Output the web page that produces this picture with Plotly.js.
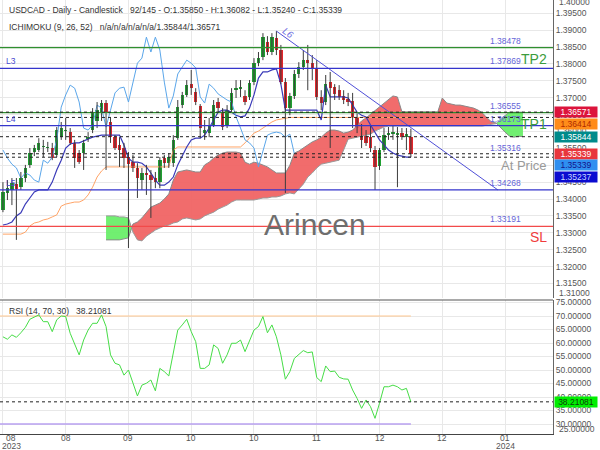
<!DOCTYPE html>
<html><head><meta charset="utf-8">
<script src="https://cdn.plot.ly/plotly-3.0.1.min.js"></script>
<style>html,body{margin:0;padding:0;background:#fff}#c{width:600px;height:450px}</style>
</head><body><div id="c"></div>
<script>
// ---------- DATA ----------
const openP = [1.3367,1.3418,1.3427,1.3444,1.3435,1.3462,1.3501,1.3539,1.3545,1.3554,
1.3551,1.3551,1.3530,1.3583,1.3601,1.3598,1.3566,1.3536,1.3536,1.3577,
1.3604,1.3631,1.3657,1.3684,1.3628,1.3583,1.3560,1.3551,1.3524,1.3509,
1.3492,1.3456,1.3477,1.3471,1.3462,1.3450,1.3521,1.3506,1.3506,1.3580,
1.3678,1.3708,1.3740,1.3717,1.3675,1.3595,1.3595,1.3619,1.3687,1.3654,
1.3619,1.3663,1.3722,1.3725,1.3705,1.3702,1.3746,1.3802,1.3820,1.3865,
1.3835,1.3876,1.3841,1.3746,1.3669,1.3705,1.3770,1.3791,1.3811,1.3802,
1.3788,1.3702,1.3687,1.3746,1.3731,1.3722,1.3705,1.3696,1.3690,1.3640,
1.3610,1.3586,1.3583,1.3545,1.3498,1.3545,1.3589,1.3592,1.3589,1.3595,
1.3583,1.35850];
const highP = [1.3450,1.3456,1.3462,1.3462,1.3480,1.3501,1.3551,1.3560,1.3580,1.3575,
1.3569,1.3566,1.3613,1.3628,1.3640,1.3610,1.3575,1.3545,1.3575,1.3598,
1.3669,1.3687,1.3693,1.3693,1.3640,1.3589,1.3583,1.3566,1.3539,1.3530,
1.3506,1.3492,1.3501,1.3486,1.3480,1.3524,1.3530,1.3536,1.3589,1.3693,
1.3717,1.3752,1.3782,1.3728,1.3681,1.3634,1.3640,1.3693,1.3699,1.3669,
1.3678,1.3728,1.3752,1.3752,1.3722,1.3752,1.3817,1.3835,1.3891,1.3882,
1.3891,1.3897,1.3856,1.3758,1.3714,1.3782,1.3805,1.3841,1.3856,1.3826,
1.3811,1.3722,1.3767,1.3776,1.3740,1.3737,1.3722,1.3714,1.3714,1.3654,
1.3622,1.3604,1.3619,1.3557,1.3551,1.3610,1.3613,1.3616,1.3613,1.3610,
1.3610,1.36082];
const lowP = [1.3361,1.3397,1.3382,1.3279,1.3427,1.3450,1.3492,1.3527,1.3539,1.3524,
1.3539,1.3515,1.3524,1.3575,1.3575,1.3560,1.3492,1.3504,1.3486,1.3569,
1.3595,1.3610,1.3631,1.3486,1.3566,1.3545,1.3495,1.3492,1.3255,1.3480,
1.3403,1.3427,1.3412,1.3344,1.3432,1.3432,1.3492,1.3492,1.3495,1.3575,
1.3669,1.3702,1.3708,1.3678,1.3580,1.3575,1.3583,1.3613,1.3657,1.3604,
1.3610,1.3657,1.3699,1.3702,1.3678,1.3693,1.3737,1.3793,1.3811,1.3826,
1.3826,1.3826,1.3740,1.3418,1.3648,1.3696,1.3758,1.3782,1.3722,1.3752,
1.3693,1.3663,1.3678,1.3551,1.3693,1.3693,1.3681,1.3675,1.3610,1.3595,
1.3551,1.3557,1.3539,1.3427,1.3486,1.3539,1.3575,1.3575,1.3435,1.3575,
1.3545,1.35240];
const closeP = [1.3421,1.3432,1.3447,1.3430,1.3462,1.3492,1.3536,1.3551,1.3566,1.3557,
1.3554,1.3521,1.3604,1.3610,1.3604,1.3566,1.3521,1.3509,1.3566,1.3583,
1.3654,1.3663,1.3684,1.3657,1.3583,1.3551,1.3545,1.3521,1.3503,1.3492,
1.3462,1.3477,1.3471,1.3456,1.3450,1.3515,1.3506,1.3524,1.3575,1.3672,
1.3708,1.3737,1.3728,1.3687,1.3610,1.3604,1.3619,1.3678,1.3669,1.3613,
1.3663,1.3714,1.3728,1.3731,1.3687,1.3743,1.3802,1.3817,1.3879,1.3835,
1.3879,1.3841,1.3746,1.3669,1.3705,1.3770,1.3791,1.3811,1.3802,1.3788,
1.3702,1.3684,1.3740,1.3728,1.3711,1.3702,1.3693,1.3687,1.3643,1.3610,
1.3575,1.3566,1.3551,1.3495,1.3545,1.3589,1.3595,1.3598,1.3595,1.3583,
1.3592,1.35339];

const tenkan = [1.3323,1.3326,1.3332,1.3350,1.3359,1.3385,1.3403,1.3421,1.3427,1.3427,
1.3427,1.3450,1.3486,1.3515,1.3551,1.3563,1.3566,1.3566,1.3572,1.3577,
1.3583,1.3586,1.3589,1.3589,1.3589,1.3589,1.3589,1.3560,1.3521,1.3509,
1.3509,1.3506,1.3495,1.3477,1.3456,1.3441,1.3441,1.3450,1.3465,1.3501,
1.3530,1.3554,1.3575,1.3580,1.3580,1.3589,1.3610,1.3634,1.3657,1.3663,
1.3663,1.3657,1.3648,1.3643,1.3646,1.3669,1.3708,1.3758,1.3776,1.3776,
1.3782,1.3785,1.3740,1.3663,1.3663,1.3663,1.3663,1.3663,1.3663,1.3663,
1.3663,1.3634,1.3737,1.3702,1.3702,1.3702,1.3702,1.3699,1.3678,1.3657,
1.3648,1.3643,1.3619,1.3595,1.3575,1.3560,1.3545,1.3536,1.3530,1.3527,
1.3524,1.35237];
const kijun = [1.3296,1.3296,1.3296,1.3296,1.3296,1.3302,1.3320,1.3329,1.3332,1.3338,
1.3341,1.3347,1.3353,1.3379,1.3385,1.3388,1.3391,1.3391,1.3397,1.3412,
1.3435,1.3465,1.3483,1.3495,1.3495,1.3495,1.3495,1.3495,1.3495,1.3495,
1.3495,1.3495,1.3495,1.3495,1.3495,1.3495,1.3495,1.3495,1.3545,1.3554,
1.3554,1.3554,1.3554,1.3554,1.3554,1.3554,1.3554,1.3554,1.3554,1.3554,
1.3554,1.3554,1.3554,1.3554,1.3566,1.3580,1.3595,1.3601,1.3610,1.3619,
1.3628,1.3634,1.3637,1.3640,1.36414,1.36414,1.36414,1.36414,1.36414,1.36414,
1.36414,1.36414,1.36414,1.36414,1.36414,1.36414,1.36414,1.36414,1.36414,1.36414,
1.36414,1.36414,1.36414,1.36414,1.36414,1.36414,1.36414,1.36414,1.36414,1.36414,
1.36414,1.36414];
const cloudStart = 23; // bar index of the first cloud value
const spanA = [1.3279,1.3279,1.3279,1.3279,1.3282,1.3285,1.3326,1.3332,1.3344,1.3361,
1.3376,1.3382,1.3388,1.3400,1.3415,1.3456,1.3480,1.3483,1.3486,1.3483,
1.3480,1.3480,1.3501,1.3509,1.3521,1.3530,1.3536,1.3539,1.3539,1.3539,
1.3536,1.3509,1.3503,1.3509,1.3506,1.3500,1.3495,1.3486,1.3477,1.3477,
1.3477,1.3500,1.3536,1.3542,1.3551,1.3560,1.3569,1.3575,1.3583,1.3595,
1.3604,1.3604,1.3601,1.3595,1.3598,1.3604,1.3616,1.3631,1.3640,1.3651,
1.3663,1.3672,1.3684,1.3696,1.3705,1.3702,1.3658,1.3658,1.3658,1.3658,
1.3658,1.3658,1.3658,1.3658,1.3658,1.3699,1.3684,1.3681,1.3678,1.3678,
1.3675,1.3672,1.3669,1.3663,1.3654,1.3640,1.3628,1.3625,1.3610,1.3598,
1.3586,1.3583,1.3586,1.35844];
const spanB = [1.3350,1.3350,1.3350,1.3347,1.3347,1.3344,1.3302,1.3279,1.3276,1.3290,
1.3299,1.3308,1.3314,1.3320,1.3323,1.3329,1.3332,1.3341,1.3344,1.3341,
1.3338,1.3341,1.3350,1.3356,1.3361,1.3370,1.3376,1.3382,1.3391,1.3397,
1.3397,1.3397,1.3397,1.3397,1.3400,1.3403,1.3403,1.3406,1.3406,1.3409,
1.3415,1.3418,1.3415,1.3430,1.3444,1.3465,1.3477,1.3492,1.3503,1.3506,
1.3509,1.3512,1.3515,1.3545,1.3577,1.3580,1.3583,1.3586,1.3589,1.3592,
1.3601,1.3607,1.3613,1.3616,1.3616,1.3616,1.3616,1.3616,1.3616,1.3616,
1.3616,1.3616,1.3616,1.3616,1.3616,1.3616,1.3616,1.3616,1.3616,1.3616,
1.3616,1.3616,1.3616,1.3616,1.3616,1.3619,1.3622,1.3623,1.3637,1.3648,
1.3657,1.3657,1.3657,1.36571];
const chikouShift = 26;

const rsi = [62.3,61.4,63.0,62.1,63.8,65.8,68.8,69.6,70.4,67.9,
67.9,64.2,68.6,70.0,69.8,63.6,59.9,55.6,61.1,64.8,
67.3,67.3,70.4,66.1,55.6,52.5,51.9,48.1,50.0,45.1,
40.4,44.4,45.1,46.3,42.3,50.6,49.4,47.8,56.2,64.8,
66.7,68.8,64.2,60.5,50.6,50.6,51.9,59.3,58.0,52.5,
55.6,59.9,59.9,61.1,56.8,61.1,64.8,66.1,69.8,63.8,
66.7,62.3,55.6,46.6,49.4,54.3,55.9,57.2,56.4,56.7,
47.2,45.7,51.5,49.4,49.6,47.3,46.7,46.6,42.6,39.5,
35.8,38.9,36.4,32.1,37.7,43.8,43.8,44.4,43.8,42.6,
43.2,38.21081];
const rsiUpper = 70, rsiLower = 30;

const tickBars = [0,14,28,42,56,70,84,98,112];
const tickLabels = ["08<br>2023","08","09","10","10","11","12","12","01<br>2024"];

const levelValues = [1.38478,1.37869,1.36555,1.36173,1.35316,1.34268,1.33191];
const levelKinds  = ["tp","line","tp","line","price","line","sl"];
const levelTags   = ["","L3","","L4","","L5",""];
const levelTexts  = ["TP2","","TP1","","At Price","","SL"];

const badgeValues = [1.36571,1.36414,1.35844,1.35339,1.35339,1.35237];
const trendBars = [61,110.4];
const trendPrices = [1.3897,1.34268];

const headerText = "USDCAD - Daily - Candlestick   92/145 - O:1.35850 - H:1.36082 - L:1.35240 - C:1.35339";
const ichiText = "ICHIMOKU (9, 26, 52)   n/a/n/a/n/a/n/a/1.35844/1.36571";
const rsiText = "RSI (14, 70, 30)   38.21081";

// ---------- STYLE / GEOMETRY ----------
const FONT = "Liberation Sans, Arial, sans-serif";
const SMALL = 8.5;
const H = 450, MB = 16, PH = H - MB;
const MAIN_PX = 298, RSI_TOP_PX = 300;
const yMin = 1.3107, yMax = 1.3989;
const rMin = 26.3, rMax = 75.93;
const xRange = [-0.656, 122.70];
const RED = '#e3262c', GREEN = '#20a032';

const bars = closeP.map((_, i) => i);
const traces = [];

// ---- cloud: same-sign segments joined at crossing points ----
const ks = spanA.map((_, j) => j + cloudStart);
const isRed = spanA.map((a, j) => a >= spanB[j]);
const segs = [];
let cur = [{x: ks[0], a: spanA[0], b: spanB[0]}];
for (let j = 1; j < spanA.length; j++) {
  if (isRed[j] !== isRed[j-1]) {
    const d0 = spanA[j-1] - spanB[j-1], d1 = spanA[j] - spanB[j];
    const t = d0 / (d0 - d1);
    const ya = spanA[j-1] + t * (spanA[j] - spanA[j-1]);
    const cp = {x: ks[j-1] + t * (ks[j] - ks[j-1]), a: ya, b: ya};
    cur.push(cp);
    segs.push({pts: cur, red: isRed[j-1]});
    cur = [cp];
  }
  cur.push({x: ks[j], a: spanA[j], b: spanB[j]});
}
segs.push({pts: cur, red: isRed[spanA.length-1]});
segs.forEach(s => {
  const xs = s.pts.map(p => p.x).concat(s.pts.slice().reverse().map(p => p.x));
  const ys = s.pts.map(p => p.a).concat(s.pts.slice().reverse().map(p => p.b));
  traces.push({type:'scatter', mode:'lines', x:xs, y:ys, fill:'toself',
    fillcolor: s.red ? 'rgba(240,96,96,0.92)' : 'rgba(105,238,105,0.95)', line:{width:0}, hoverinfo:'skip'});
});
traces.push({type:'scatter', mode:'lines', x:ks, y:spanA, line:{color:'#8a8a8a', width:1}, hoverinfo:'skip'});
traces.push({type:'scatter', mode:'lines', x:ks, y:spanB, line:{color:'#9a9a9a', width:1}, hoverinfo:'skip'});

// ---- ichimoku lines ----
traces.push({type:'scatter', mode:'lines', x:bars, y:kijun, line:{color:'#ffa467', width:1}});
traces.push({type:'scatter', mode:'lines', x:bars, y:tenkan, line:{color:'#3a3ab8', width:1.2}});
const chX = [], chY = [];
closeP.forEach((c, i) => { if (i >= chikouShift) { chX.push(i - chikouShift); chY.push(c); } });
traces.push({type:'scatter', mode:'lines', x:chX, y:chY, line:{color:'#5aa6ea', width:1}});

// ---- candles: wicks + bodies ----
const wx = [], wy = [];
bars.forEach(i => { wx.push(i, i, null); wy.push(lowP[i], highP[i], null); });
traces.push({type:'scatter', mode:'lines', x:wx, y:wy, line:{color:'#3c3c3c', width:1}, connectgaps:false});
traces.push({type:'bar', x:bars,
  base: bars.map(i => Math.min(openP[i], closeP[i])),
  y: bars.map(i => Math.max(Math.abs(closeP[i] - openP[i]), 0.0003)),
  width: 0.74,
  marker:{color: bars.map(i => closeP[i] >= openP[i] ? GREEN : RED), line:{width:0}}});

// ---- trend line L6 ----
traces.push({type:'scatter', mode:'lines', x:trendBars, y:trendPrices, line:{color:'#4f4fd8', width:1}});

// ---- RSI panel ----
traces.push({type:'scatter', mode:'lines', x:[xRange[0], bars[bars.length-1]], y:[rsiUpper, rsiUpper], yaxis:'y2', line:{color:'#ffc890', width:1.2}});
traces.push({type:'scatter', mode:'lines', x:[xRange[0], bars[bars.length-1]], y:[rsiLower, rsiLower], yaxis:'y2', line:{color:'#b9a0f0', width:1.5}});
traces.push({type:'scatter', mode:'lines', x:bars, y:rsi, yaxis:'y2', line:{color:'#46dd46', width:1}});

// ---------- SHAPES ----------
const shapes = [];
const lvlColor = {tp:'#2f8f2f', line:'#3535cc', price:null, sl:'#f24a4a'};
levelValues.forEach((v, j) => {
  const c = lvlColor[levelKinds[j]];
  if (c) shapes.push({type:'line', xref:'paper', x0:0, x1:1, yref:'y', y0:v, y1:v, line:{color:c, width:1.2}, layer:'above'});
});
[...new Set(badgeValues)].forEach(v => {
  shapes.push({type:'line', xref:'paper', x0:0, x1:1, yref:'y', y0:v, y1:v, line:{color:'#222', width:1, dash:'3px,3px'}, layer:'above'});
});
shapes.push({type:'line', xref:'paper', x0:0, x1:1, yref:'y2', y0:rsi[rsi.length-1], y1:rsi[rsi.length-1], line:{color:'#222', width:1, dash:'3px,3px'}, layer:'above'});
shapes.push({type:'line', xref:'paper', x0:0, x1:1, yref:'paper', y0:1 - RSI_TOP_PX/PH, y1:1 - RSI_TOP_PX/PH, line:{color:'#555', width:1.2}});

// ---------- ANNOTATIONS ----------
const ann = [];
const A = o => ann.push(Object.assign({showarrow:false, font:{family:FONT, size:SMALL, color:'#333'}}, o));
A({xref:'paper', yref:'paper', x:0, xshift:7, y:1 - 10/PH, xanchor:'left', yanchor:'middle', text:headerText});
A({xref:'paper', yref:'paper', x:0, xshift:7, y:1 - 27/PH, xanchor:'left', yanchor:'middle', text:ichiText});
A({xref:'paper', yref:'paper', x:0, xshift:7, y:1 - 311/PH, xanchor:'left', yanchor:'middle', text:rsiText});
levelValues.forEach((v, j) => {
  A({xref:'paper', x:488/553, xanchor:'left', yref:'y', y:v, yanchor:'bottom', text:v.toFixed(5), font:{family:FONT, size:SMALL, color:'#6464d8'}});
  if (levelTags[j]) A({xref:'paper', x:0, xshift:4, xanchor:'left', yref:'y', y:v, yanchor:'bottom', text:levelTags[j], font:{family:FONT, size:SMALL, color:'#4a4ad0'}});
  if (levelTexts[j]) {
    const col = levelKinds[j] === 'sl' ? '#f03c3c' : levelKinds[j] === 'price' ? '#9a9a9a' : '#3c9c3c';
    A({xref:'paper', x:1, xshift:-4, xanchor:'right', yref:'y', y:v, yanchor:'top', yshift:-1, text:levelTexts[j],
       font:{family:FONT, size:levelKinds[j]==='price'?13:14, color:col}});
  }
});
const badgeBg = ['#dc143c','#ff8c1a','#008b8b','#e8363c','#2f8ff0','#0b0bd0'];
const badgeFg = ['#ffffff','#b02a00','#ffffff','#ffffff','#13138a','#c8d8ff'];
const toPx = v => (yMax - v) / (yMax - yMin) * MAIN_PX;
let prev = -1e9;
badgeValues.forEach((v, j) => {
  const ideal = toPx(v);
  const px = Math.max(ideal, prev + 11.5);
  prev = px;
  A({xref:'paper', x:1, xanchor:'left', xshift:1, yref:'y', y:v, yanchor:'middle', yshift:-(px - ideal),
     text:v.toFixed(5), bgcolor:badgeBg[j], width:42, height:10, borderpad:0,
     font:{family:FONT, size:SMALL, color:badgeFg[j]}});
});
A({xref:'paper', x:1, xanchor:'left', xshift:1, yref:'y2', y:rsi[rsi.length-1], yanchor:'middle',
   text:rsi[rsi.length-1].toFixed(5), bgcolor:'#00ee00', width:42, height:10, borderpad:0, font:{family:FONT, size:SMALL, color:'#0d3d0d'}});
A({xref:'paper', x:1, xanchor:'left', xshift:4, yref:'paper', y:1 - 293/PH, yanchor:'middle', text:'1.31000', font:{family:FONT, size:SMALL, color:'#555'}});
A({xref:'paper', x:1, xanchor:'left', xshift:4, yref:'paper', y:1 - 2/PH, yanchor:'middle', text:'1.40000', font:{family:FONT, size:SMALL, color:'#555'}});
A({xref:'paper', x:1, xanchor:'left', xshift:4, yref:'paper', y:1 - 429/PH, yanchor:'middle', text:'25.00000', font:{family:FONT, size:SMALL, color:'#555'}});
// x tick labels (two-line labels set tight, first label kept inside the canvas)
tickBars.forEach((b, i) => {
  const lines = tickLabels[i].split('<br>');
  lines.forEach((ln, k) => {
    const pos = i === 0 ? {xref:'paper', x:11/553} : {xref:'x', x:b};
    A(Object.assign(pos, {xanchor:'center', yref:'paper', y:0, yanchor:'middle', yshift:-4 - 7.5*k, text:ln,
       font:{family:FONT, size:SMALL, color:'#555'}}));
  });
});
A({xref:'x', x:trendBars[0] + 2.6, yref:'y', y:trendPrices[0] - 0.0003, text:'<i>L6</i>', textangle:36, font:{family:FONT, size:9.5, color:'#6a6ae0'}});
A({xref:'paper', yref:'paper', x:315/553, y:1 - 224/PH, text:'Arincen', font:{family:FONT, size:30, color:'#6e6e6e'}});

const layout = {
  width:600, height:450, margin:{l:0, r:47, t:0, b:MB},
  paper_bgcolor:'#fff', plot_bgcolor:'#fff', showlegend:false, bargap:0,
  font:{family:FONT, size:SMALL, color:'#555'},
  xaxis:{range:xRange, anchor:'y2', tickmode:'array', tickvals:tickBars, showticklabels:false,
         showgrid:true, gridcolor:'#e8e8e8', zeroline:false, showline:true, linecolor:'#444', linewidth:1.2, ticks:''},
  yaxis:{domain:[1 - MAIN_PX/PH, 1], range:[yMin, yMax], side:'right', tickmode:'array',
         tickvals:[1.310,1.315,1.320,1.325,1.330,1.335,1.340,1.345,1.350,1.355,1.360,1.365,1.370,1.375,1.380,1.385,1.390,1.395],
         tickformat:'.5f', showgrid:true, gridcolor:'#e8e8e8', zeroline:false, showline:true, linecolor:'#666', ticks:'',
         tickfont:{size:SMALL, color:'#555'}},
  yaxis2:{domain:[0, 1 - RSI_TOP_PX/PH], range:[rMin, rMax], side:'right', tickmode:'array',
          tickvals:[30,35,40,45,50,55,60,65,70,75], tickformat:'.5f', showgrid:true, gridcolor:'#e8e8e8',
          zeroline:false, showline:true, linecolor:'#666', ticks:'', tickfont:{size:SMALL, color:'#555'}},
  shapes:shapes, annotations:ann
};
Plotly.newPlot('c', traces, layout, {staticPlot:true, displayModeBar:false});
</script>
</body></html>
